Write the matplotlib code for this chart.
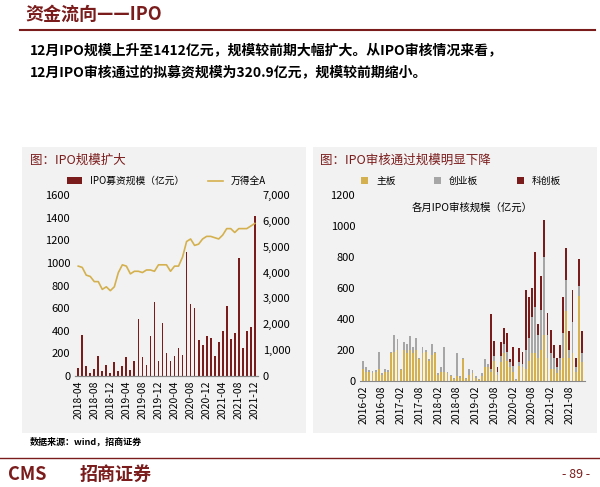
import matplotlib.pyplot as plt
import numpy as np

plt.rcParams["font.family"] = ["Noto Sans CJK SC"]

# left chart: monthly IPO fundraising and Wind All-A index
ipo_months = [f"{y}-{m:02d}" for y in range(2018, 2022) for m in range(1, 13)][3:]
ipo_amount = [70, 360, 90, 30, 60, 180, 40, 100, 30, 120, 40, 90, 170, 50, 130,
              500, 170, 100, 350, 650, 130, 470, 200, 130, 180, 250, 190, 1100,
              640, 600, 320, 270, 350, 340, 180, 300, 400, 620, 330, 380, 1040,
              250, 400, 430, 1412]
wind_a = [4250, 4200, 3900, 3850, 3650, 3650, 3350, 3450, 3300, 3450, 4000, 4300,
          4250, 3950, 4050, 4050, 4000, 4100, 4100, 4050, 4300, 4300, 4300, 4050,
          4250, 4250, 4600, 5200, 5300, 5050, 5100, 5300, 5400, 5400, 5350, 5300,
          5450, 5700, 5700, 5550, 5700, 5700, 5700, 5800, 5900]

# right chart: monthly IPO approvals by board
rev_months = [f"{y}-{m:02d}" for y in range(2016, 2022) for m in range(1, 13)][1:]
main_board = [80, 60, 60, 50, 60, 80, 40, 60, 60, 180, 190,
              200, 70, 200, 180, 200, 180, 200, 140, 180, 190, 130, 170,
              180, 40, 60, 60, 50, 30, 10, 30, 20, 140, 10, 40,
              50, 20, 5, 30, 90, 90, 60, 130, 40, 120, 180, 130,
              90, 60, 5, 100, 90, 80, 130, 180, 180, 150, 200, 300,
              150, 80, 80, 50, 70, 150, 450, 150, 180, 60, 550, 120]
gem_board = [50, 30, 10, 15, 10, 110, 10, 15, 10, 10, 110,
             70, 10, 50, 60, 90, 40, 80, 10, 40, 10, 10, 70,
             10, 10, 30, 160, 10, 10, 10, 150, 10, 10, 10, 40,
             20, 10, 5, 20, 50, 20, 20, 30, 20, 40, 60, 60,
             30, 40, 5, 20, 20, 120, 150, 230, 300, 150, 260, 500,
             150, 100, 70, 40, 80, 160, 200, 50, 200, 30, 60, 60]
star_board = [0] * 41 + [350, 100, 30, 90, 100, 120,
                         20, 120, 0, 90, 80, 390, 260, 190, 350, 70, 220, 240,
                         140, 150, 80, 60, 80, 230, 210, 120, 210, 60, 180, 140]

RED = "#7b1c1c"
GOLD = "#d4b14e"
GREY = "#a6a6a6"
PANEL = "#f2f2f2"

fig = plt.figure(figsize=(6, 4.87), dpi=100)
W, H = 600, 487


def box(x, y, w, h):
    return [x / W, 1 - (y + h) / H, w / W, h / H]


fig.text(25 / W, 1 - 14 / H, "资金流向——IPO", color=RED, fontsize=13,
         fontweight="bold", va="center")
fig.add_artist(plt.Line2D([20 / W, 595 / W], [1 - 30 / H] * 2, color=RED, lw=1.5))
fig.text(30 / W, 1 - 50 / H,
         "12月IPO规模上升至1412亿元，规模较前期大幅扩大。从IPO审核情况来看，",
         fontsize=10, fontweight="bold", va="center")
fig.text(30 / W, 1 - 72 / H,
         "12月IPO审核通过的拟募资规模为320.9亿元，规模较前期缩小。",
         fontsize=10, fontweight="bold", va="center")

for px in (22, 313):
    bg = fig.add_axes(box(px, 147, 284, 286))
    bg.set_facecolor(PANEL)
    bg.set_xticks([])
    bg.set_yticks([])
    for s in bg.spines.values():
        s.set_visible(False)

# left chart
fig.text(30 / W, 1 - 160 / H, "图：IPO规模扩大", color=RED, fontsize=9, va="center")
ax = fig.add_axes(box(75, 195, 183, 181))
ax.set_facecolor("none")
x = np.arange(len(ipo_months))
ax.bar(x, ipo_amount, width=0.45, color=RED, label="IPO募资规模（亿元）")
ax.set_ylim(0, 1600)
ax.set_yticks(range(0, 1601, 200))
ax.set_xlim(-0.8, len(x) - 0.2)
ax.set_xticks(x[::4])
ax.set_xticklabels(ipo_months[::4], rotation=90, fontsize=7.5)
ax.tick_params(axis="y", labelsize=8, length=0)
ax.tick_params(axis="x", length=0)
ax2 = ax.twinx()
ax2.plot(x, wind_a, color=GOLD, lw=1.2, label="万得全A")
ax2.set_ylim(0, 7000)
ax2.set_yticks(range(0, 7001, 1000))
ax2.set_yticklabels([f"{v:,}" for v in range(0, 7001, 1000)])
ax2.tick_params(axis="y", labelsize=8, length=0)
for a in (ax, ax2):
    for k, s in a.spines.items():
        s.set_visible(k == "bottom")
        s.set_color("#888888")
h1, l1 = ax.get_legend_handles_labels()
h2, l2 = ax2.get_legend_handles_labels()
ax.legend(h1 + h2, l1 + l2, loc="lower center", bbox_to_anchor=(0.5, 1.0), ncol=2,
          frameon=False, fontsize=7, handlelength=1.5, columnspacing=2.5)

# right chart
fig.text(320 / W, 1 - 160 / H, "图：IPO审核通过规模明显下降", color=RED, fontsize=9,
         va="center")
bx = fig.add_axes(box(360, 195, 225, 186))
bx.set_facecolor("none")
xr = np.arange(len(rev_months))
main_arr = np.array(main_board)
gem_arr = np.array(gem_board)
bx.bar(xr, main_board, width=0.6, color=GOLD, label="主板")
bx.bar(xr, gem_board, width=0.6, bottom=main_arr, color=GREY, label="创业板")
bx.bar(xr, star_board, width=0.6, bottom=main_arr + gem_arr, color=RED, label="科创板")
bx.set_ylim(0, 1200)
bx.set_yticks(range(0, 1201, 200))
bx.set_xlim(-1, len(xr))
bx.set_xticks(xr[::6])
bx.set_xticklabels(rev_months[::6], rotation=90, fontsize=7.5)
bx.tick_params(axis="y", labelsize=8, length=0)
bx.tick_params(axis="x", length=0)
for k, s in bx.spines.items():
    s.set_visible(k == "bottom")
    s.set_color("#888888")
bx.text(0.5, 0.93, "各月IPO审核规模（亿元）", transform=bx.transAxes, ha="center",
        va="center", fontsize=7.5)
bx.legend(loc="lower center", bbox_to_anchor=(0.45, 1.0), ncol=3, frameon=False,
          fontsize=7, handlelength=0.7, columnspacing=4)

fig.text(30 / W, 1 - 442 / H, "数据来源：wind，招商证券", fontsize=6.5,
         fontweight="bold", style="italic", va="center")
fig.add_artist(plt.Line2D([0, 1], [1 - 458 / H] * 2, color=RED, lw=1))
fig.text(8 / W, 1 - 474 / H, "CMS", color=RED, fontsize=13, fontweight="bold", va="center")
fig.text(80 / W, 1 - 474 / H, "招商证券", color=RED, fontsize=13, fontweight="bold",
         va="center")
fig.text(590 / W, 1 - 474 / H, "- 89 -", color=RED, fontsize=9, ha="right", va="center")

fig.savefig("out.png", dpi=100)
